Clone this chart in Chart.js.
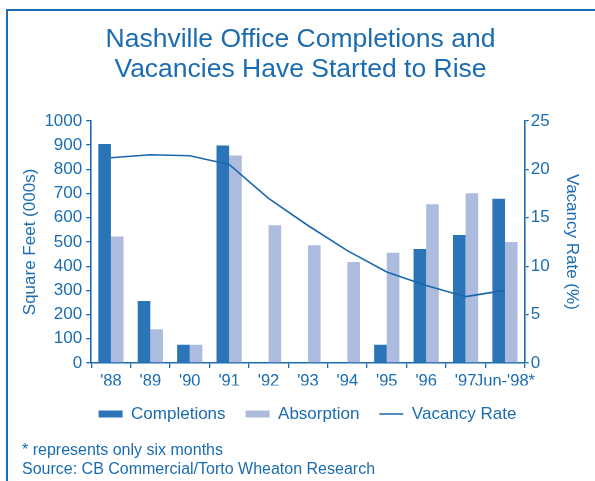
<!DOCTYPE html>
<html>
<head>
<meta charset="utf-8">
<script src="https://cdn.jsdelivr.net/npm/chart.js@4.4.0/dist/chart.umd.min.js"></script>
<style>
  html, body { margin: 0; padding: 0; background: #ffffff; }
  #wrap { position: relative; width: 595px; height: 481px; overflow: hidden; }
  #frame { position: absolute; left: 6px; top: 9px; right: -10px; bottom: -10px;
           border-left: 2px solid #1b6cb0; border-top: 2px solid #1b6cb0; }
  canvas { position: absolute; left: 0; top: 0; }
  .note { position: absolute; left: 22px; font-family: "Liberation Sans", Arial, sans-serif;
          font-size: 16px; line-height: 19px; color: #1b6cb0; white-space: nowrap; }
</style>
</head>
<body>
<div id="wrap">
  <div id="frame"></div>
  <canvas id="c" width="595" height="481"></canvas>
  <div class="note" style="top:440px">* represents only six months</div>
  <div class="note" style="top:459px">Source: CB Commercial/Torto Wheaton Research</div>
</div>
<script>
const categories = ["'88", "'89", "'90", "'91", "'92", "'93", "'94", "'95", "'96", "'97", "Jun-'98*"];
const completions = [905, 256, 75, 898, 0, 0, 0, 75, 471, 529, 678];
const absorption = [523, 139, 75, 857, 569, 486, 417, 455, 656, 701, 500];
const vacancyRate = [21.2, 21.5, 21.4, 20.5, 17.0, 14.2, 11.6, 9.4, 8.0, 6.85, 7.5];
const leftTicks = [0, 100, 200, 300, 400, 500, 600, 700, 800, 900, 1000];
const rightTicks = [0, 5, 10, 15, 20, 25];

const TXT = '#1b6cb0';
const C_COMP = '#2a74b7';
const C_ABS = '#adbcde';
const C_LINE = '#1a67ad';

Chart.defaults.font.family = '"Liberation Sans", Arial, sans-serif';
Chart.defaults.color = TXT;

const legendShift = {
  id: 'legendShift',
  afterLayout(chart) {
    if (chart.legend) { chart.legend.left += 7; chart.legend.right += 7; }
  }
};

new Chart(document.getElementById('c'), {
  data: {
    labels: categories,
    datasets: [
      { type: 'line', label: 'Vacancy Rate', data: vacancyRate, yAxisID: 'y1',
        borderColor: C_LINE, backgroundColor: C_LINE, borderWidth: 1.6,
        pointRadius: 0, tension: 0, order: 0 },
      { type: 'bar', label: 'Completions', data: completions, yAxisID: 'y',
        backgroundColor: C_COMP, borderWidth: 0, order: 1,
        categoryPercentage: 0.64, barPercentage: 1.0 },
      { type: 'bar', label: 'Absorption', data: absorption, yAxisID: 'y',
        backgroundColor: C_ABS, borderWidth: 0, order: 2,
        categoryPercentage: 0.64, barPercentage: 1.0 }
    ]
  },
  plugins: [legendShift],
  options: {
    responsive: false,
    animation: false,
    layout: { padding: { left: 17, right: 11, top: 10, bottom: 48.5 } },
    plugins: {
      tooltip: { enabled: false },
      title: {
        display: true,
        text: ['Nashville Office Completions and', 'Vacancies Have Started to Rise'],
        color: TXT,
        font: { size: 26.5, weight: 'normal', lineHeight: 1.13 },
        padding: { top: 15, bottom: 36 }
      },
      legend: {
        position: 'bottom',
        labels: {
          usePointStyle: true,
          pointStyleWidth: 24,
          boxHeight: 7,
          padding: 20,
          color: TXT,
          font: { size: 17 },
          generateLabels: (chart) => {
            const ds = chart.data.datasets;
            return [
              { text: ds[1].label, fillStyle: C_COMP, strokeStyle: C_COMP, lineWidth: 0, pointStyle: 'rect', datasetIndex: 1, fontColor: TXT },
              { text: ds[2].label, fillStyle: C_ABS, strokeStyle: C_ABS, lineWidth: 0, pointStyle: 'rect', datasetIndex: 2, fontColor: TXT },
              { text: ds[0].label, fillStyle: C_LINE, strokeStyle: C_LINE, lineWidth: 1.6, pointStyle: 'line', datasetIndex: 0, fontColor: TXT }
            ];
          }
        }
      }
    },
    scales: {
      x: {
        offset: true,
        afterFit: (s) => { s.height = 22.5; },
        grid: { offset: true, drawOnChartArea: false, color: TXT, tickLength: 5, lineWidth: 1.3 },
        border: { color: TXT, width: 1.6 },
        ticks: { color: TXT, font: { size: 16.5, lineHeight: 1 }, padding: 5, maxRotation: 0, autoSkip: false }
      },
      y: {
        position: 'left',
        min: 0, max: 1000,
        afterBuildTicks: (s) => { s.ticks = leftTicks.map(v => ({ value: v })); },
        grid: { drawOnChartArea: false, color: TXT, tickLength: 5, lineWidth: 1.3 },
        border: { color: TXT, width: 1.6 },
        ticks: { color: TXT, font: { size: 17 }, padding: 4, callback: (v) => String(v) },
        title: { display: true, text: 'Square Feet (000s)', color: TXT, font: { size: 17 }, padding: { top: 3, bottom: 0 } }
      },
      y1: {
        position: 'right',
        min: 0, max: 25,
        afterBuildTicks: (s) => { s.ticks = rightTicks.map(v => ({ value: v })); },
        grid: { drawOnChartArea: false, color: TXT, tickLength: 4, lineWidth: 1.3 },
        border: { color: TXT, width: 1.6 },
        ticks: { color: TXT, font: { size: 17 }, padding: 2, callback: (v) => String(v) },
        title: { display: true, text: 'Vacancy Rate (%)', color: TXT, font: { size: 17 }, padding: { top: 2, bottom: 10 } }
      }
    }
  }
});
</script>
</body>
</html>
